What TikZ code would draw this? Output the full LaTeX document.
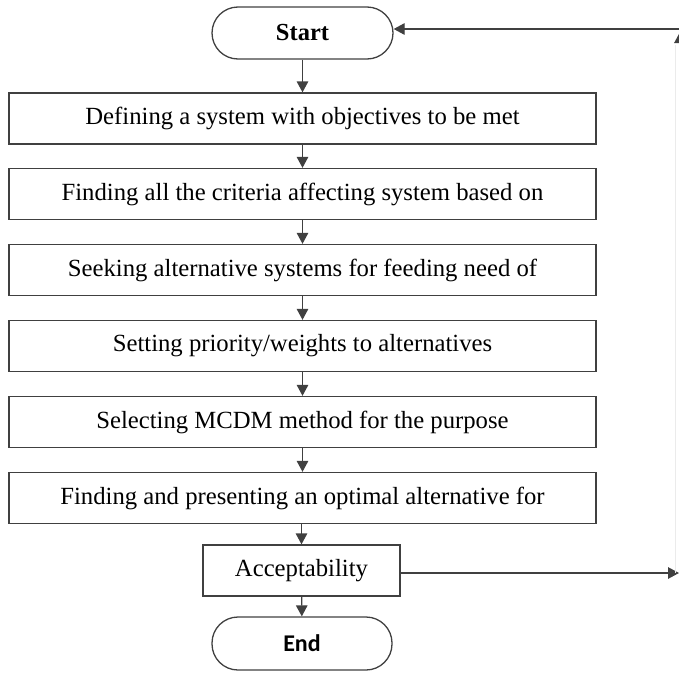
\documentclass[tikz,border=0pt]{standalone}
\usepackage{fontspec}
\setmainfont{Liberation Serif}
\newfontfamily\endfont{Carlito}
\usetikzlibrary{arrows.meta,positioning}
\begin{document}
\begin{tikzpicture}[x=1pt,y=-1pt,
  line/.style={draw=black!75, line width=1.3pt},
  arr/.style={line, -{Triangle[length=11pt,width=11.5pt]}},
  stepbox/.style={line, rectangle, minimum width=587pt, minimum height=51pt, inner sep=0pt, font=\fontsize{24.7}{28}\selectfont},
]
\useasboundingbox (0,0) rectangle (679,672);
\node[line, rectangle, rounded corners=26pt, minimum width=181pt, minimum height=52pt, inner sep=0pt, font=\fontsize{24.5}{28}\selectfont\bfseries] (start) at (302.5,33) {Start};
\node[stepbox] (s1) at (302.5,118.5) {Defining a system with objectives to be met};
\node[stepbox] (s2) at (302.5,194) {Finding all the criteria affecting system based on};
\node[stepbox] (s3) at (302.5,270) {Seeking alternative systems for feeding need of};
\node[stepbox] (s4) at (302.5,346) {Setting priority/weights to alternatives};
\node[stepbox] (s5) at (302.5,422) {Selecting MCDM method for the purpose};
\node[stepbox] (s6) at (302.5,498) {Finding and presenting an optimal alternative for};
\node[line, rectangle, minimum width=197pt, minimum height=51pt, inner sep=0pt, font=\fontsize{24.7}{28}\selectfont] (acc) at (301.5,570.5) {Acceptability};
\node[line, rectangle, rounded corners=26pt, minimum width=180pt, minimum height=53pt, inner sep=0pt, font=\fontsize{24}{28}\selectfont\endfont\bfseries] (end) at (302,643.5) {End};
\draw[arr] (start) -- (s1);
\draw[arr] (s1) -- (s2);
\draw[arr] (s2) -- (s3);
\draw[arr] (s3) -- (s4);
\draw[arr] (s4) -- (s5);
\draw[arr] (s5) -- (s6);
\draw[arr] (s6.south -| acc.north) -- (acc.north);
\draw[arr] (acc) -- (end);
\coordinate (r1) at (679,573);
\coordinate (r2) at (675,573);
\coordinate (r3) at (675,45);
\coordinate (r4) at (680,48);
\coordinate (r5) at (680,32);
\coordinate (r6) at (679,29);
\draw[arr] (acc.east |- r1) -- (r1);
\draw[draw=black!8, line width=1pt] (r2) -- (r3);
\draw[arr] (r4) -- (r5);
\draw[arr] (r6) -- (start.east |- r6);
\end{tikzpicture}
\end{document}
